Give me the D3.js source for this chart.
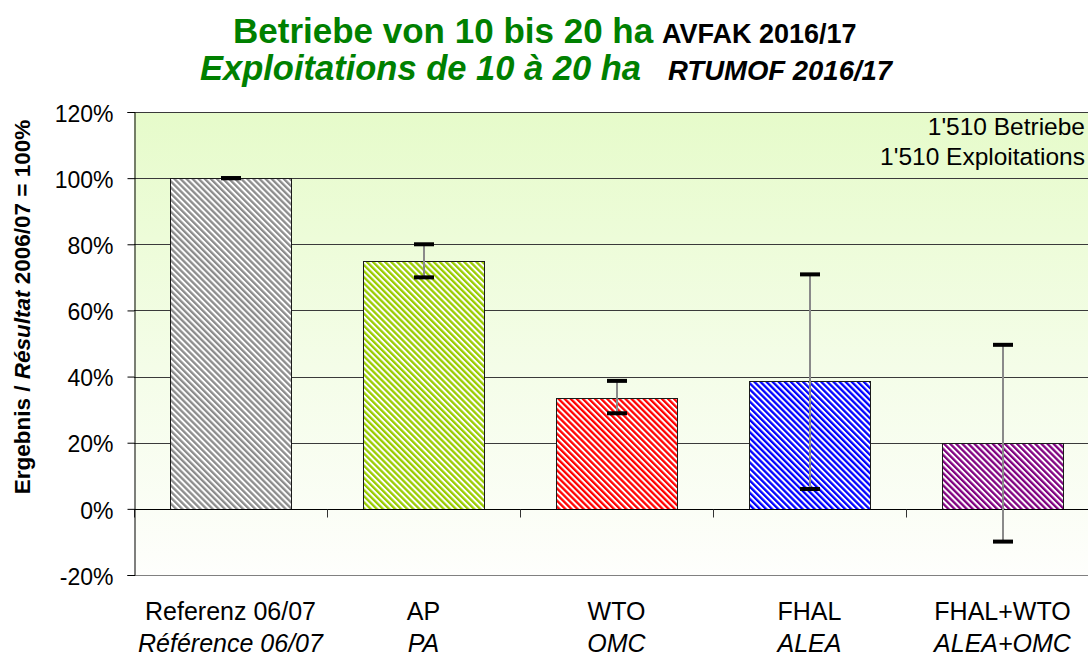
<!DOCTYPE html>
<html>
<head>
<meta charset="utf-8">
<script src="https://cdn.jsdelivr.net/npm/d3@7"></script>
<style>
  html, body { margin: 0; padding: 0; background: #ffffff; }
  svg { display: block; font-family: "Liberation Sans", Arial, sans-serif; }
</style>
</head>
<body>
<svg id="chart" width="1088" height="658"></svg>
<script>
// ---- data ----
const categoriesDe = ["Referenz 06/07", "AP", "WTO", "FHAL", "FHAL+WTO"];
const categoriesFr = ["Référence 06/07", "PA", "OMC", "ALEA", "ALEA+OMC"];
const values   = [1.00, 0.75, 0.334, 0.387, 0.200];
const errHigh  = [1.00, 0.80, 0.387, 0.709, 0.496];
const errLow   = [1.00, 0.70, 0.289, 0.060, -0.099];
const barColors = ["#8c8c8c", "#99cc00", "#ff0000", "#0000ff", "#800080"];
const yTicks = [-0.2, 0, 0.2, 0.4, 0.6, 0.8, 1.0, 1.2];
const yTickLabels = ["-20%", "0%", "20%", "40%", "60%", "80%", "100%", "120%"];
const noteLines = ["1'510 Betriebe", "1'510 Exploitations"];

(function () {
// ---- layout ----
const svg = d3.select("#chart");
const pLeft = 134, pRight = 1099, pTop = 112, pBottom = 575;
const pad = 0.373;

const x = d3.scaleBand().domain(categoriesDe).range([pLeft, pRight])
  .paddingInner(pad).paddingOuter(pad / 2);
const y = d3.scaleLinear().domain([-0.2, 1.2]).range([pBottom, pTop]);

const defs = svg.append("defs");
const grad = defs.append("linearGradient").attr("id", "bg")
  .attr("x1", 0).attr("y1", 0).attr("x2", 0).attr("y2", 1);
grad.append("stop").attr("offset", "0%").attr("stop-color", "#e6fbca");
grad.append("stop").attr("offset", "55%").attr("stop-color", "#f4fde8");
grad.append("stop").attr("offset", "100%").attr("stop-color", "#fefefc");

barColors.forEach((c, i) => {
  const p = defs.append("pattern").attr("id", "pat" + i)
    .attr("patternUnits", "userSpaceOnUse")
    .attr("width", 4.3).attr("height", 10)
    .attr("patternTransform", "rotate(-45)");
  p.append("rect").attr("width", 4.3).attr("height", 10).attr("fill", "#ffffff");
  p.append("rect").attr("width", 2.3).attr("height", 10).attr("fill", c);
});

// plot background
svg.append("rect").attr("x", pLeft).attr("y", pTop)
  .attr("width", pRight - pLeft).attr("height", pBottom - pTop)
  .attr("fill", "url(#bg)");

// gridlines
svg.append("g").selectAll("line").data(yTicks).join("line")
  .attr("x1", pLeft).attr("x2", pRight)
  .attr("y1", d => Math.round(y(d)) + 0.5).attr("y2", d => Math.round(y(d)) + 0.5)
  .attr("stroke", d => d === -0.2 ? "#808080" : "#3a3a3a").attr("stroke-width", 1);

// annotation
svg.append("g").selectAll("text").data(noteLines).join("text")
  .attr("x", 1085).attr("y", (d, i) => 135 + i * 30)
  .attr("text-anchor", "end").attr("font-size", "24.5px").attr("fill", "#000")
  .text(d => d);

// bars
svg.append("g").selectAll("rect").data(values).join("rect")
  .attr("x", (d, i) => Math.round(x(categoriesDe[i])) + 0.5)
  .attr("width", Math.round(x.bandwidth()))
  .attr("y", d => Math.round(y(Math.max(0, d))) + 0.5)
  .attr("height", d => Math.abs(Math.round(y(0)) - Math.round(y(d))))
  .attr("fill", (d, i) => "url(#pat" + i + ")")
  .attr("stroke", "#1a1a1a").attr("stroke-width", 1);

// x axis (zero line) and category ticks
const y0 = Math.round(y(0)) + 0.5;
svg.append("line").attr("x1", pLeft).attr("x2", pRight)
  .attr("y1", y0).attr("y2", y0).attr("stroke", "#000");
const step = x.step();
const boundaries = d3.range(categoriesDe.length + 1).map(i => pLeft + i * step);
svg.append("g").selectAll("line").data(boundaries).join("line")
  .attr("x1", d => Math.round(d) + 0.5).attr("x2", d => Math.round(d) + 0.5)
  .attr("y1", y0).attr("y2", y0 + 8).attr("stroke", "#333");

// error bars
const eb = svg.append("g");
values.forEach((v, i) => {
  const cx = Math.round(x(categoriesDe[i]) + x.bandwidth() / 2);
  if (errHigh[i] !== errLow[i]) {
    eb.append("line").attr("x1", cx).attr("x2", cx)
      .attr("y1", y(errHigh[i])).attr("y2", y(errLow[i]))
      .attr("stroke", "#8a8a8a").attr("stroke-width", 2);
  }
  [errHigh[i], errLow[i]].forEach(e => {
    eb.append("rect").attr("x", cx - 10).attr("y", y(e) - 2)
      .attr("width", 20).attr("height", 4).attr("fill", "#000");
  });
});

// y axis
const yAxis = d3.axisLeft(y).tickValues(yTicks)
  .tickFormat((d, i) => yTickLabels[i]).tickSize(7).tickPadding(14);
const ga = svg.append("g").attr("transform", `translate(${pLeft + 0.5},0)`).call(yAxis);
ga.select(".domain").attr("stroke", "#000");
ga.selectAll(".tick line").attr("stroke", "#000");
ga.selectAll(".tick text").attr("font-size", "23px").attr("fill", "#000")
  .attr("font-family", "'Liberation Sans', Arial, sans-serif").attr("dy", "0.4em");

// x labels
const xl = svg.append("g");
categoriesDe.forEach((c, i) => {
  const cx = x(c) + x.bandwidth() / 2;
  xl.append("text").attr("x", cx).attr("y", 620).attr("text-anchor", "middle")
    .attr("font-size", "25px").attr("fill", "#000").text(c);
  xl.append("text").attr("x", cx).attr("y", 652).attr("text-anchor", "middle")
    .attr("font-size", "25px").attr("font-style", "italic").attr("fill", "#000")
    .text(categoriesFr[i]);
});

// y axis title
const yt = svg.append("text").attr("transform", "translate(30,307) rotate(-90)")
  .attr("text-anchor", "middle").attr("font-size", "22.5px").attr("font-weight", "bold")
  .attr("fill", "#000");
yt.append("tspan").text("Ergebnis / ");
yt.append("tspan").attr("font-style", "italic").text("Résultat");
yt.append("tspan").text(" 2006/07 = 100%");

// titles
svg.append("text").attr("x", 233).attr("y", 43).attr("font-size", "35px")
  .attr("font-weight", "bold").attr("fill", "#008000").text("Betriebe von 10 bis 20 ha");
svg.append("text").attr("x", 662).attr("y", 43).attr("font-size", "27px")
  .attr("font-weight", "bold").attr("fill", "#000").text("AVFAK 2016/17");
svg.append("text").attr("x", 200).attr("y", 80).attr("font-size", "34.5px")
  .attr("font-weight", "bold").attr("font-style", "italic").attr("fill", "#008000")
  .text("Exploitations de 10 à 20 ha");
svg.append("text").attr("x", 668).attr("y", 80).attr("font-size", "27.5px")
  .attr("font-weight", "bold").attr("font-style", "italic").attr("fill", "#000")
  .text("RTUMOF 2016/17");
})();
</script>
</body>
</html>
